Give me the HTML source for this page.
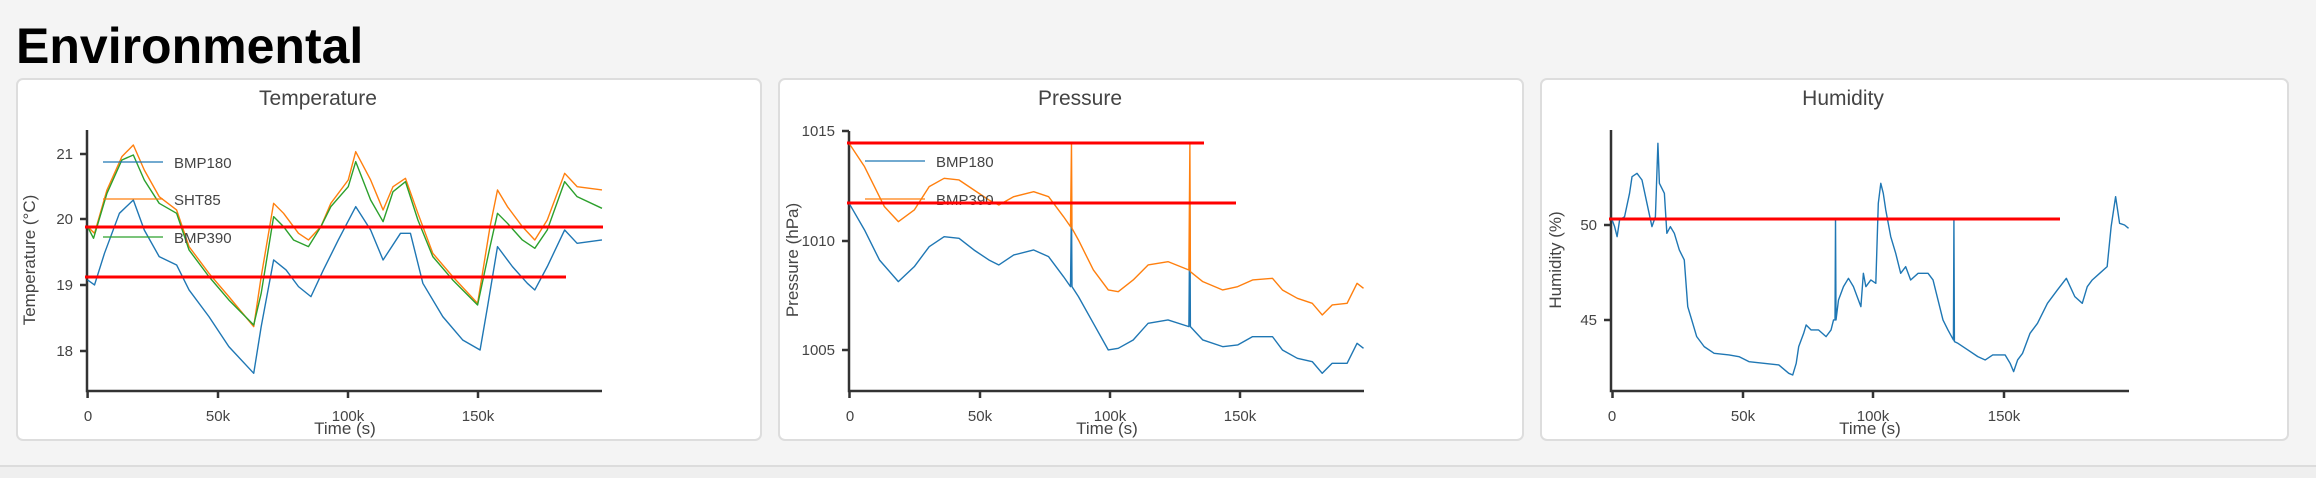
<!DOCTYPE html>
<html><head><meta charset="utf-8"><style>
html,body{margin:0;padding:0;background:#f4f4f4;width:2316px;height:478px;overflow:hidden}
svg{position:absolute;left:0;top:0}
text{font-family:"Liberation Sans",Arial,sans-serif;fill:#444}
.t{font-size:15px}
.d{fill:none;vector-effect:non-scaling-stroke;stroke-width:1.4;stroke-linejoin:round}
</style></head><body>
<svg width="2316" height="478" viewBox="0 0 2316 478">
<rect x="0" y="466" width="2316" height="12" fill="#efefef"/>
<line x1="0" y1="466" x2="2316" y2="466" stroke="#dcdcdc" stroke-width="2"/>
<text x="16" y="63" style="font-size:50px;font-weight:bold;fill:#000">Environmental</text>

<!-- cards -->
<rect x="17" y="79" width="744" height="361" rx="6" fill="#fff" stroke="#ddd" stroke-width="2"/>
<rect x="779" y="79" width="744" height="361" rx="6" fill="#fff" stroke="#ddd" stroke-width="2"/>
<rect x="1541" y="79" width="747" height="361" rx="6" fill="#fff" stroke="#ddd" stroke-width="2"/>

<!-- ===== Temperature ===== -->
<text x="318" y="105" text-anchor="middle" style="font-size:21px">Temperature</text>
<g stroke="#333" stroke-width="2.5" fill="none">
<path d="M87 130V391H602"/>
<path d="M80 154H87M80 219H87M80 285H87M80 351H87"/>
<path d="M87.6 391v7M218 391v7M348 391v7M478 391v7"/>
</g>
<g class="t" text-anchor="end"><text x="73" y="159">21</text><text x="73" y="224">20</text><text x="73" y="290">19</text><text x="73" y="356">18</text></g>
<g class="t" text-anchor="middle"><text x="88" y="421">0</text><text x="218" y="421">50k</text><text x="348" y="421">100k</text><text x="478" y="421">150k</text></g>
<text x="345" y="434" text-anchor="middle" style="font-size:17px">Time (s)</text>
<text transform="translate(35,260) rotate(-90)" text-anchor="middle" style="font-size:17px">Temperature (°C)</text>
<g transform="scale(0.4975,0.3333)">
<polyline class="d" stroke="#1f77b4" points="176,840 190,855 210,760 240,640 268,600 290,690 320,770 355,795 380,870 420,950 460,1040 510,1120 525,980 550,780 575,810 600,860 625,890 650,810 680,720 715,620 745,690 770,780 805,700 825,700 850,850 890,950 930,1020 965,1050 980,920 1000,740 1030,800 1060,850 1075,870 1100,800 1135,690 1160,730 1210,720"/>
<polyline class="d" stroke="#ff7f0e" points="176,680 190,700 215,570 245,470 268,435 290,510 320,590 355,630 380,740 420,820 460,890 510,980 525,830 550,610 570,640 600,700 620,720 645,680 665,610 700,540 715,455 745,540 770,630 790,560 815,535 840,640 870,760 910,830 960,910 985,680 1000,570 1020,620 1050,680 1075,720 1100,660 1135,520 1160,560 1210,570"/>
<polyline class="d" stroke="#2ca02c" points="176,680 188,715 215,580 245,480 268,465 290,540 320,610 355,640 380,750 420,830 460,900 510,975 525,880 550,650 570,680 590,720 620,740 645,680 665,620 700,560 715,485 745,600 770,665 790,575 815,545 840,660 870,770 910,840 960,915 985,740 1000,640 1020,670 1050,720 1075,745 1100,690 1135,545 1160,590 1210,625"/>
</g>
<g stroke-width="1.2"><line x1="103" y1="162" x2="163" y2="162" stroke="#1f77b4"/><line x1="103" y1="199" x2="163" y2="199" stroke="#ff7f0e"/><line x1="103" y1="237" x2="163" y2="237" stroke="#2ca02c"/></g>
<g class="t"><text x="174" y="168">BMP180</text><text x="174" y="205">SHT85</text><text x="174" y="243">BMP390</text></g>
<g stroke="#f00" stroke-width="3"><line x1="85" y1="227" x2="603" y2="227"/><line x1="85" y1="277" x2="566" y2="277"/></g>

<!-- ===== Pressure ===== -->
<text x="1080" y="105" text-anchor="middle" style="font-size:21px">Pressure</text>
<g stroke="#333" stroke-width="2.5" fill="none">
<path d="M849 131V391H1364"/>
<path d="M842 131H849M842 241H849M842 350H849"/>
<path d="M849.5 391v7M980 391v7M1110 391v7M1240 391v7"/>
</g>
<g class="t" text-anchor="end"><text x="835" y="136">1015</text><text x="835" y="246">1010</text><text x="835" y="355">1005</text></g>
<g class="t" text-anchor="middle"><text x="850" y="421">0</text><text x="980" y="421">50k</text><text x="1110" y="421">100k</text><text x="1240" y="421">150k</text></g>
<text x="1107" y="434" text-anchor="middle" style="font-size:17px">Time (s)</text>
<text transform="translate(798,260) rotate(-90)" text-anchor="middle" style="font-size:17px">Pressure (hPa)</text>
<g transform="translate(770,60) scale(0.4975,0.3333)">
<polyline class="d" stroke="#1f77b4" points="159,430 190,510 220,600 258,665 290,620 320,560 350,530 380,535 410,570 440,600 460,615 490,585 530,570 560,590 590,650 604,680 606,430 607,680 620,710 650,790 680,870 700,865 730,840 760,790 800,780 842,800 844,430 845,800 870,840 910,860 940,855 970,830 1010,830 1030,870 1060,895 1090,905 1110,940 1130,910 1160,910 1180,850 1193,865"/>
<polyline class="d" stroke="#ff7f0e" points="159,250 190,320 230,440 258,485 290,450 320,380 350,355 380,360 410,390 440,420 460,435 490,410 530,395 560,410 590,470 604,500 606,250 607,505 620,540 650,630 680,690 700,695 730,660 760,615 800,605 842,630 844,250 845,635 870,665 910,690 940,680 970,660 1010,655 1030,690 1060,715 1090,730 1110,765 1130,735 1160,730 1180,670 1193,685"/>
</g>
<g stroke-width="1.2"><line x1="865" y1="161" x2="925" y2="161" stroke="#1f77b4"/><line x1="865" y1="199" x2="925" y2="199" stroke="#ff7f0e"/></g>
<g class="t"><text x="936" y="167">BMP180</text><text x="936" y="205">BMP390</text></g>
<g stroke="#f00" stroke-width="3"><line x1="847" y1="143" x2="1204" y2="143"/><line x1="847" y1="203" x2="1236" y2="203"/></g>

<!-- ===== Humidity ===== -->
<text x="1843" y="105" text-anchor="middle" style="font-size:21px">Humidity</text>
<g stroke="#333" stroke-width="2.5" fill="none">
<path d="M1611 130V391H2129"/>
<path d="M1604 225H1611M1604 320H1611"/>
<path d="M1612.5 391v7M1743 391v7M1873 391v7M2004 391v7"/>
</g>
<g class="t" text-anchor="end"><text x="1597" y="230">50</text><text x="1597" y="325">45</text></g>
<g class="t" text-anchor="middle"><text x="1612" y="421">0</text><text x="1743" y="421">50k</text><text x="1873" y="421">100k</text><text x="2004" y="421">150k</text></g>
<text x="1870" y="434" text-anchor="middle" style="font-size:17px">Time (s)</text>
<text transform="translate(1561,260) rotate(-90)" text-anchor="middle" style="font-size:17px">Humidity (%)</text>
<g transform="translate(1540,60) scale(0.4975,0.3333)">
<polyline class="d" stroke="#1f77b4" points="145,480 150,500 155,530 160,480 170,470 180,400 185,350 195,340 205,360 215,430 225,500 232,470 237,250 240,370 250,400 255,520 262,500 270,520 280,570 290,600 297,740 305,780 315,830 330,860 350,880 380,885 400,890 420,905 450,910 480,915 500,940 508,945 515,910 520,860 530,820 535,795 545,810 560,810 575,830 585,810 590,780 593,780 594,478 595,780 600,720 610,680 620,655 630,680 645,740 650,640 655,680 665,660 675,670 680,430 685,370 690,400 695,450 705,530 715,580 725,640 735,620 745,660 760,640 780,640 790,660 800,720 810,780 820,810 831,840 832,478 833,845 840,850 860,870 880,890 895,900 910,885 935,885 945,910 952,935 960,900 970,880 985,820 1000,790 1020,730 1040,690 1058,655 1075,710 1090,730 1100,680 1110,660 1125,640 1140,620 1148,500 1157,410 1165,490 1175,495 1183,505"/>
</g>
<line x1="1609" y1="219" x2="2060" y2="219" stroke="#f00" stroke-width="3"/>
</svg>
</body></html>
